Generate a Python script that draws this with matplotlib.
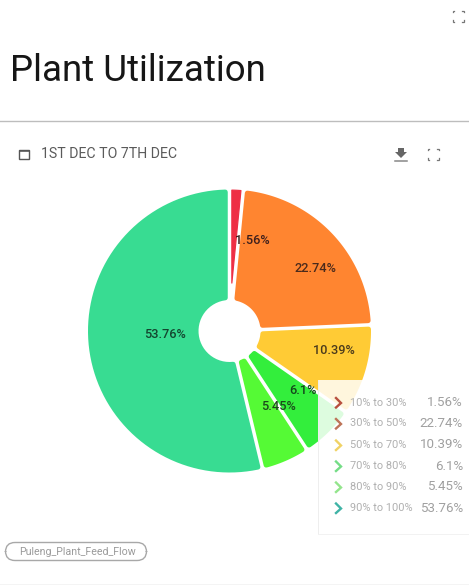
import math
import numpy as np
import matplotlib
matplotlib.use("Agg")
import matplotlib.pyplot as plt
from matplotlib.patches import FancyBboxPatch, Rectangle
from matplotlib.lines import Line2D
from matplotlib.path import Path

plt.rcParams['font.family'] = ['Roboto', 'DejaVu Sans']

title = "Plant Utilization"
date_range = "1ST DEC TO 7TH DEC"
series_name = "Puleng_Plant_Feed_Flow"
categories = ["10% to 30%", "30% to 50%", "50% to 70%", "70% to 80%", "80% to 90%", "90% to 100%"]
values = [1.56, 22.74, 10.39, 6.1, 5.45, 53.76]
colors = ["#ee2f45", "#ff8530", "#ffcb35", "#33ee3c", "#55fa35", "#38dc92"]
chevrons = ["#b8503f", "#bd7458", "#f0d264", "#74dd86", "#93e58c", "#3fb3a6"]
label_px = [(252, 241), (315, 268), (334, 351), (303, 390), (278, 407), (165, 334)]
label_colors = ["#3d1f1d", "#4a2a1c", "#4a3a1c", "#14451c", "#1c4a1c", "#14452f"]

W, H = 469, 585
fig = plt.figure(figsize=(W / 100, H / 100), dpi=100, facecolor="white")

# pie axes
cx, cy, R, hole = 229.5, 331, 141.5, 31
pad = 1.05
side = R * pad
pie_ax = fig.add_axes([(cx - side) / W, 1 - (cy + side) / H, 2 * side / W, 2 * side / H])
wedges, _ = pie_ax.pie(values, colors=colors, startangle=90, counterclock=False, radius=1,
                       wedgeprops=dict(width=1 - hole / R))
pie_ax.set_xlim(-pad, pad)
pie_ax.set_ylim(-pad, pad)
pie_ax.axis("off")


def rounded_outline(t1, t2, half_gap, rho):
    """Outline of a wedge with a constant-width gap; corners come from a round stroke."""
    a1, a2 = math.radians(t1), math.radians(t2)
    d = half_gap + rho
    ro, ri = R - rho, hole + rho
    oo, oi = math.asin(d / ro), math.asin(d / ri)
    th = np.linspace(a1 + oo, a2 - oo, 80)
    pts = [(ro * math.cos(t), ro * math.sin(t)) for t in th]
    half = (a2 - a1) / 2
    if a2 - oi > a1 + oi:
        th = np.linspace(a2 - oi, a1 + oi, 30)
        pts += [(ri * math.cos(t), ri * math.sin(t)) for t in th]
    else:
        rad = d / math.sin(half)
        pts.append((rad * math.cos(a1 + half), rad * math.sin(a1 + half)))
    pts.append(pts[0])
    return Path(np.array(pts) / R, closed=True)


for w, v in zip(wedges, values):
    rho = 0.6 if v < 3 else 2.5
    w.get_path()
    w._path = rounded_outline(w.theta1, w.theta2, 1.75, rho)
    w.set_edgecolor(w.get_facecolor())
    w.set_linewidth(2 * rho * 0.72)
    w.set_joinstyle("round")

# overlay in pixel coordinates
ov = fig.add_axes([0, 0, 1, 1], facecolor="none")
ov.set_xlim(0, W)
ov.set_ylim(H, 0)
ov.axis("off")

for (x, y), v, c in zip(label_px, values, label_colors):
    ov.text(x, y, f"{v:g}%", ha="center", va="center", fontsize=9.2, color=c, fontweight="medium")

# page furniture
ov.text(10, 81, title, fontsize=26.4, color="#161616", ha="left", va="baseline")
ov.add_line(Line2D([0, W], [120.5, 120.5], color="#bdbdbd", lw=1))
ov.add_line(Line2D([0, W], [584.5, 584.5], color="#c8c8c8", lw=1))
ov.text(41, 154.5, date_range, fontsize=10.2, color="#5a5a5a", ha="left", va="center")


def corners(x, y, s, color="#777777"):
    k = s * 0.35
    for sx in (-1, 1):
        for sy in (-1, 1):
            ov.add_line(Line2D([x + sx * s, x + sx * s, x + sx * (s - k)],
                               [y + sy * (s - k), y + sy * s, y + sy * s],
                               color=color, lw=0.9, solid_joinstyle="miter"))


corners(458, 16, 5.5)
corners(433, 154, 5.5)

# calendar icon
ov.add_patch(Rectangle((19, 150), 10, 9, fc="white", ec="#555555", lw=1))
ov.add_patch(Rectangle((19, 149.5), 10, 1.8, fc="#555555", ec="#555555", lw=0.4))
# download icon
ov.fill([398, 404, 404, 407, 401, 395, 398], [148, 148, 152, 152, 158, 152, 152],
        color="#666666", lw=0)
ov.add_line(Line2D([395, 407], [161, 161], color="#888888", lw=1.1))

# tooltip
ov.add_patch(Rectangle((318, 380), 151, 153.5, fc="white", ec="none", alpha=0.84))
ov.add_line(Line2D([318, 318], [380, 533.5], color="#eeeeee", lw=0.7))
ov.add_line(Line2D([318, 469], [533.5, 533.5], color="#f2f2f2", lw=0.7))
rows = [402.5, 423.5, 445, 466, 487, 508]
for y, cat, v, c in zip(rows, categories, values, chevrons):
    ov.add_line(Line2D([336, 341, 336], [y - 4.5, y + 0.5, y + 5], color=c, lw=1.7,
                       solid_joinstyle="miter"))
    ov.text(350, y, cat, fontsize=7.9, color="#b0b0b0", ha="left", va="center")
    ov.text(463, y, f"{v:g}%", fontsize=9.6, color="#a0a0a0", ha="right", va="center")

# series pill
ov.add_patch(FancyBboxPatch((14, 551), 124, 1, boxstyle="round,pad=8.5,rounding_size=9.5",
                            fc="white", ec="#a8a8a8", lw=1))
ov.text(77, 552, series_name, fontsize=7.7, color="#9a9a9a", ha="center", va="center")

fig.savefig("out.png", dpi=100, facecolor="white")
